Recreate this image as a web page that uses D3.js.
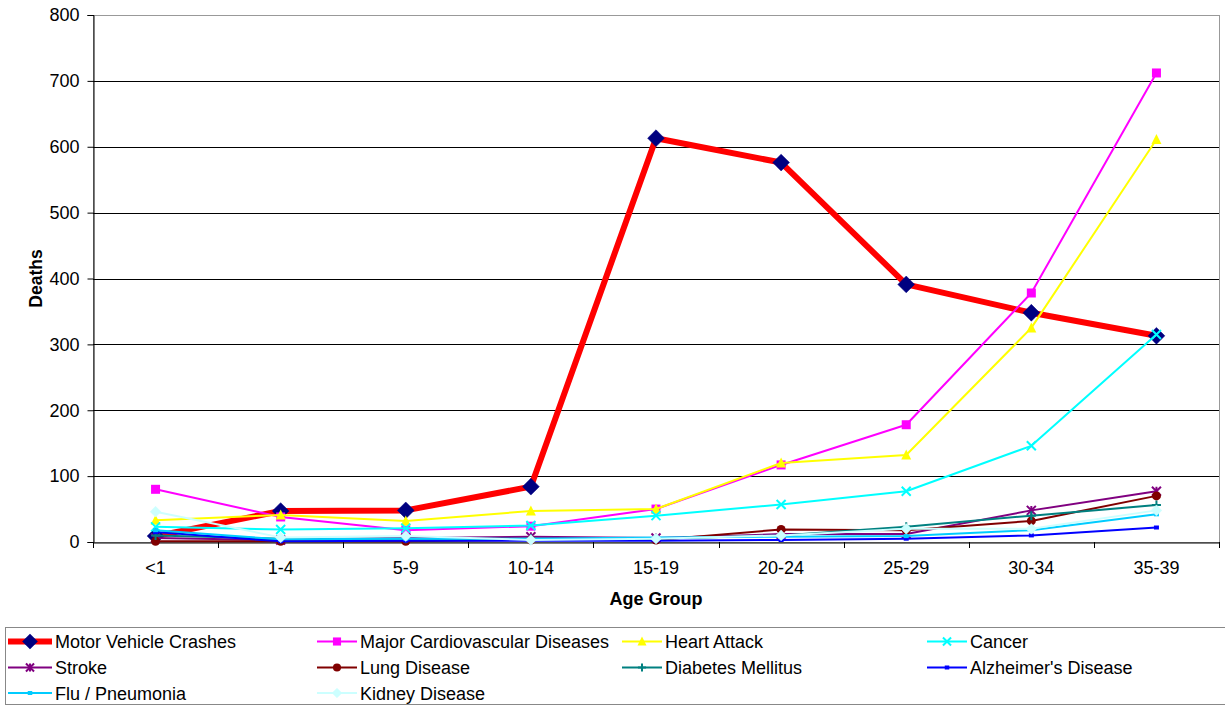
<!DOCTYPE html>
<html>
<head>
<meta charset="utf-8">
<script src="https://cdn.jsdelivr.net/npm/d3@7"></script>
<style>
  html, body { margin: 0; padding: 0; background: #fff; }
  svg { display: block; font-family: "Liberation Sans", Arial, sans-serif; }
</style>
</head>
<body>
<svg id="chart" width="1225" height="707"></svg>
<script>
// Age groups along the x axis
const ageGroups = ["<1", "1-4", "5-9", "10-14", "15-19", "20-24", "25-29", "30-34", "35-39"];
const yTicks = [0, 100, 200, 300, 400, 500, 600, 700, 800];

// Deaths by cause for each age group
const motorVehicle   = [9, 47, 48, 84, 613, 576, 391, 348, 313];
const cardiovascular = [80, 38, 18, 24, 50, 117, 178, 378, 712];
const heartAttack    = [33, 41, 32, 47, 50, 120, 132, 325, 611];
const cancer         = [23, 19, 21, 25, 40, 57, 77, 146, 315];
const stroke         = [6, 3, 6, 8, 6, 12, 12, 48, 77];
const lungDisease    = [1, 1, 1, 3, 3, 19, 18, 32, 70];
const diabetes       = [10, 5, 5, 5, 5, 10, 23, 40, 56];
const alzheimers     = [15, 1, 2, 2, 2, 3, 5, 10, 22];
const fluPneumonia   = [18, 4, 5, 5, 7, 8, 9, 18, 42];
const kidneyDisease  = [46, 7, 9, 3, 5, 10, 20, 20, 48];

const series = [
  { name: "Motor Vehicle Crashes", values: motorVehicle, color: "#FF0000", marker: "diamond", mcolor: "#000080", width: 6, size: 14 },
  { name: "Major Cardiovascular Diseases", values: cardiovascular, color: "#FF00FF", marker: "square", mcolor: "#FF00FF", width: 2, size: 9 },
  { name: "Heart Attack", values: heartAttack, color: "#FFFF00", marker: "triangle", mcolor: "#FFFF00", width: 2, size: 10 },
  { name: "Cancer", values: cancer, color: "#00FFFF", marker: "x", mcolor: "#00FFFF", width: 2, size: 9 },
  { name: "Stroke", values: stroke, color: "#800080", marker: "star", mcolor: "#800080", width: 2, size: 9 },
  { name: "Lung Disease", values: lungDisease, color: "#800000", marker: "circle", mcolor: "#800000", width: 2, size: 9 },
  { name: "Diabetes Mellitus", values: diabetes, color: "#008080", marker: "plus", mcolor: "#008080", width: 2, size: 9 },
  { name: "Alzheimer's Disease", values: alzheimers, color: "#0000FF", marker: "dash", mcolor: "#0000FF", width: 2, size: 5 },
  { name: "Flu / Pneumonia", values: fluPneumonia, color: "#00CCFF", marker: "dash", mcolor: "#00CCFF", width: 2, size: 5 },
  { name: "Kidney Disease", values: kidneyDisease, color: "#CCFFFF", marker: "diamond", mcolor: "#CCFFFF", width: 2, size: 9 }
];

const svg = d3.select("#chart");
const plot = { left: 93, right: 1219, top: 15, bottom: 542 };

const x = d3.scaleBand().domain(ageGroups).range([plot.left, plot.right]);
const y = d3.scaleLinear().domain([0, 800]).range([plot.bottom, plot.top]);
const cx = d => x(d) + x.bandwidth() / 2;

// Plot frame (top/right in grey)
svg.append("rect")
  .attr("x", plot.left + 0.5).attr("y", plot.top + 0.5)
  .attr("width", plot.right - plot.left).attr("height", plot.bottom - plot.top)
  .attr("fill", "none").attr("stroke", "#999");

// Horizontal gridlines
svg.append("g").selectAll("line")
  .data(yTicks.filter(t => t > 0 && t < 800))
  .join("line")
  .attr("x1", plot.left).attr("x2", plot.right)
  .attr("y1", d => Math.round(y(d)) + 0.5).attr("y2", d => Math.round(y(d)) + 0.5)
  .attr("stroke", "#000").attr("stroke-width", 1);

// Y axis
const yAxis = svg.append("g")
  .attr("transform", `translate(${plot.left + 0.5},0)`)
  .call(d3.axisLeft(y).tickValues(yTicks).tickSize(6).tickPadding(8));
yAxis.selectAll("text").attr("font-size", 18).attr("fill", "#000")
  .style("font-family", "'Liberation Sans', Arial, sans-serif");
yAxis.select(".domain").attr("stroke", "#000");
yAxis.selectAll(".tick line").attr("stroke", "#000");

// X axis with ticks at category boundaries
const xAxis = svg.append("g")
  .attr("transform", `translate(0,${plot.bottom + 0.5})`)
  .call(d3.axisBottom(x).tickSize(0).tickPadding(0));
xAxis.selectAll("text").attr("font-size", 18).attr("fill", "#000")
  .attr("dy", null).attr("y", 31)
  .style("font-family", "'Liberation Sans', Arial, sans-serif");
xAxis.select(".domain").attr("stroke", "#000");
svg.append("g").selectAll("line")
  .data(ageGroups.concat(["end"]))
  .join("line")
  .attr("x1", (d, i) => Math.round(plot.left + i * x.bandwidth()) + 0.5)
  .attr("x2", (d, i) => Math.round(plot.left + i * x.bandwidth()) + 0.5)
  .attr("y1", plot.bottom).attr("y2", plot.bottom + 6)
  .attr("stroke", "#000");

// Axis titles
svg.append("text")
  .attr("transform", `translate(42,${(plot.top + plot.bottom) / 2}) rotate(-90)`)
  .attr("text-anchor", "middle").attr("font-size", 17.5).attr("font-weight", "bold")
  .text("Deaths");
svg.append("text")
  .attr("x", (plot.left + plot.right) / 2).attr("y", 605)
  .attr("text-anchor", "middle").attr("font-size", 18).attr("font-weight", "bold")
  .text("Age Group");

// Marker drawing
function drawMarker(g, s, px, py, scale) {
  const r = s.size / 2 * (scale || 1);
  const c = s.mcolor;
  switch (s.marker) {
    case "diamond":
      g.append("path").attr("d", `M${px},${py - r * 1.2}L${px + r * 1.2},${py}L${px},${py + r * 1.2}L${px - r * 1.2},${py}Z`)
        .attr("fill", c).attr("stroke", c).attr("stroke-width", 0.5);
      break;
    case "square":
      g.append("rect").attr("x", px - r).attr("y", py - r).attr("width", 2 * r).attr("height", 2 * r).attr("fill", c);
      break;
    case "triangle":
      g.append("path").attr("d", `M${px},${py - r * 1.1}L${px + r},${py + r * 0.9}L${px - r},${py + r * 0.9}Z`).attr("fill", c);
      break;
    case "x":
      g.append("path").attr("d", `M${px - r},${py - r}L${px + r},${py + r}M${px - r},${py + r}L${px + r},${py - r}`)
        .attr("stroke", c).attr("stroke-width", 2);
      break;
    case "star":
      g.append("path").attr("d", `M${px - r},${py - r}L${px + r},${py + r}M${px - r},${py + r}L${px + r},${py - r}M${px},${py - r}L${px},${py + r}`)
        .attr("stroke", c).attr("stroke-width", 2);
      break;
    case "circle":
      g.append("circle").attr("cx", px).attr("cy", py).attr("r", r).attr("fill", c);
      break;
    case "plus":
      g.append("path").attr("d", `M${px - r},${py}L${px + r},${py}M${px},${py - r}L${px},${py + r}`)
        .attr("stroke", c).attr("stroke-width", 2);
      break;
    case "dash":
      g.append("rect").attr("x", px - r).attr("y", py - 2).attr("width", 2 * r).attr("height", 4).attr("fill", c);
      break;
  }
}

// Series lines and markers, later series drawn over earlier ones
const line = d3.line().x((d, i) => cx(ageGroups[i])).y(d => y(d));
const linesG = svg.append("g");
series.forEach(s => {
  const g = linesG.append("g");
  g.append("path").datum(s.values).attr("d", line)
    .attr("fill", "none").attr("stroke", s.color).attr("stroke-width", s.width)
    .attr("stroke-linejoin", "round");
  s.values.forEach((v, i) => drawMarker(g, s, cx(ageGroups[i]), y(v)));
});

// Legend
const legend = svg.append("g");
legend.append("rect").attr("x", 5.5).attr("y", 627.5).attr("width", 1230).attr("height", 77)
  .attr("fill", "#fff").attr("stroke", "#888").attr("stroke-width", 1);
const colSample = [8, 317, 622, 927];
const colWidth = [44, 40, 40, 40];
const rowY = [641.5, 667.5, 693];
series.forEach((s, i) => {
  const col = i % 4, row = Math.floor(i / 4);
  const lx = colSample[col], ly = rowY[row];
  const w = colWidth[col];
  const g = legend.append("g");
  g.append("line").attr("x1", lx).attr("x2", lx + w).attr("y1", ly).attr("y2", ly)
    .attr("stroke", s.color).attr("stroke-width", s.width);
  drawMarker(g, s, lx + w / 2, ly, 0.9);
  g.append("text").attr("x", lx + w + 3).attr("y", ly + 6.5)
    .attr("font-size", 18).attr("fill", "#000").text(s.name);
});
</script>
</body>
</html>
